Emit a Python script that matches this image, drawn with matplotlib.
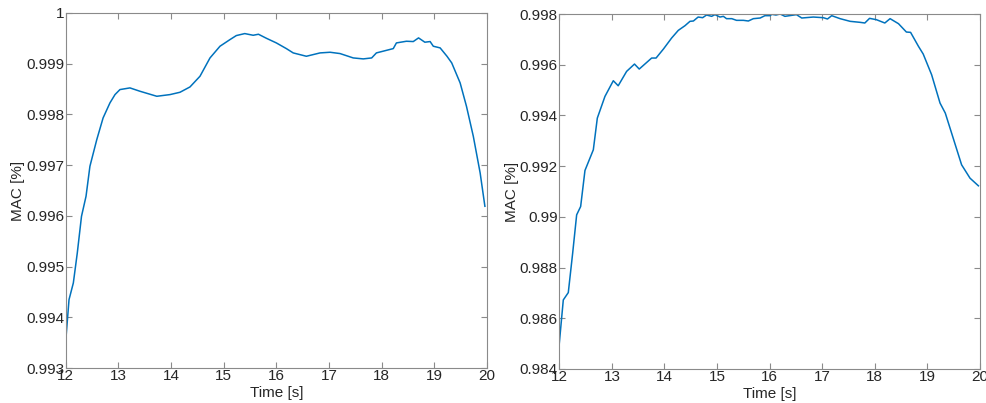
import matplotlib
matplotlib.use("Agg")
import matplotlib.pyplot as plt

# left panel: MAC over time
T_LEFT = [12.0, 12.063, 12.145, 12.22, 12.30, 12.386, 12.46, 12.59, 12.71, 12.84,
          12.936, 13.03, 13.22, 13.41, 13.73, 13.98, 14.17, 14.36, 14.55, 14.74,
          14.93, 15.12, 15.24, 15.40, 15.56, 15.66, 15.81, 16.00, 16.19, 16.32,
          16.57, 16.83, 17.02, 17.21, 17.46, 17.65, 17.81, 17.90, 18.22, 18.28,
          18.47, 18.60, 18.70, 18.82, 18.92, 18.98, 19.11, 19.24, 19.33, 19.49,
          19.61, 19.74, 19.87, 19.96]
MAC_LEFT = [0.993526, 0.994348, 0.994677, 0.995268, 0.995991, 0.996386, 0.996978,
            0.997503, 0.997931, 0.998227, 0.998391, 0.998490, 0.998523, 0.998457,
            0.998358, 0.998391, 0.998437, 0.998542, 0.998753, 0.999114, 0.999345,
            0.999476, 0.999555, 0.999594, 0.999561, 0.999581, 0.999502, 0.999410,
            0.999298, 0.999213, 0.999147, 0.999213, 0.999226, 0.999200, 0.999114,
            0.999095, 0.999114, 0.999213, 0.999298, 0.999410, 0.999443, 0.999437,
            0.999509, 0.999424, 0.999437, 0.999345, 0.999312, 0.999147, 0.999016,
            0.998621, 0.998161, 0.997569, 0.996846, 0.996189]

# right panel
T_RIGHT = [12.0, 12.076, 12.171, 12.254, 12.33, 12.406, 12.488, 12.647, 12.723,
           12.868, 13.027, 13.12, 13.28, 13.43, 13.52, 13.756, 13.84, 13.98,
           14.136, 14.263, 14.39, 14.485, 14.55, 14.64, 14.726, 14.80, 14.897,
           14.96, 15.056, 15.12, 15.18, 15.28, 15.37, 15.50, 15.595, 15.69, 15.82,
           15.91, 16.01, 16.04, 16.12, 16.20, 16.29, 16.51, 16.61, 16.83, 17.02,
           17.10, 17.18, 17.34, 17.53, 17.72, 17.81, 17.90, 18.03, 18.19, 18.29,
           18.45, 18.60, 18.68, 18.83, 18.92, 19.08, 19.24, 19.34, 19.50, 19.65,
           19.81, 19.97]
MAC_RIGHT = [0.985013, 0.986724, 0.987013, 0.988566, 0.990079, 0.990408, 0.991829,
             0.992645, 0.993895, 0.994750, 0.995368, 0.995170, 0.995737, 0.996026,
             0.995829, 0.996263, 0.996263, 0.996618, 0.997053, 0.997355, 0.997539,
             0.997711, 0.997724, 0.997880, 0.997855, 0.997960, 0.997908, 0.997974,
             0.997880, 0.997908, 0.997816, 0.997816, 0.997750, 0.997750, 0.997724,
             0.997816, 0.997842, 0.997934, 0.997934, 0.997987, 0.997960, 0.998000,
             0.997908, 0.997974, 0.997842, 0.997880, 0.997855, 0.997803, 0.997934,
             0.997816, 0.997711, 0.997671, 0.997645, 0.997829, 0.997776, 0.997645,
             0.997816, 0.997618, 0.997289, 0.997276, 0.996724, 0.996421, 0.995605,
             0.994487, 0.994092, 0.993040, 0.992053, 0.991526, 0.991224]

X_TICKS = [12, 13, 14, 15, 16, 17, 18, 19, 20]
Y_TICKS_LEFT = [0.993, 0.994, 0.995, 0.996, 0.997, 0.998, 0.999, 1.0]
Y_LABELS_LEFT = ["0.993", "0.994", "0.995", "0.996", "0.997", "0.998", "0.999", "1"]
Y_TICKS_RIGHT = [0.984, 0.986, 0.988, 0.99, 0.992, 0.994, 0.996, 0.998]
Y_LABELS_RIGHT = ["0.984", "0.986", "0.988", "0.99", "0.992", "0.994", "0.996", "0.998"]

LINE = "#0072BD"
TEXT = "#262626"
AXIS = "#8a8a8a"
FS = 11

plt.rcParams.update({
    "font.family": ["Liberation Sans", "DejaVu Sans"],
    "font.size": FS,
})

W, H = 987, 403
fig = plt.figure(figsize=(W / 100, H / 100), dpi=100)


def panel(rect, t, mac, yticks, ylabels, ylim):
    x0, y_top, x1, y_bot = rect
    ax = fig.add_axes([x0 / W, 1 - y_bot / H, (x1 - x0) / W, (y_bot - y_top) / H])
    ax.plot(t, mac, color=LINE, lw=1.1)
    ax.set_xlim(12, 20)
    ax.set_ylim(*ylim)
    ax.set_xticks(X_TICKS)
    ax.set_yticks(yticks)
    ax.set_yticklabels(ylabels)
    for s in ax.spines.values():
        s.set_color(AXIS)
        s.set_linewidth(0.8)
    ax.tick_params(direction="in", length=4, width=0.8, color=AXIS,
                   labelcolor=TEXT, labelsize=FS, pad=1,
                   top=True, right=True)
    ax.set_xlabel("Time [s]", color=TEXT, fontsize=FS, va="top")
    ax.xaxis.set_label_coords(0.5, -0.05)
    ax.set_ylabel("MAC [%]", color=TEXT, fontsize=FS, va="center")
    ax.yaxis.set_label_coords(-0.113, 0.5)
    return ax


panel((65.7, 13, 487, 368), T_LEFT, MAC_LEFT, Y_TICKS_LEFT, Y_LABELS_LEFT,
      (0.993, 1.0))
panel((559.3, 14, 980, 369), T_RIGHT, MAC_RIGHT, Y_TICKS_RIGHT, Y_LABELS_RIGHT,
      (0.984, 0.998))

fig.savefig("out.png", dpi=100)
